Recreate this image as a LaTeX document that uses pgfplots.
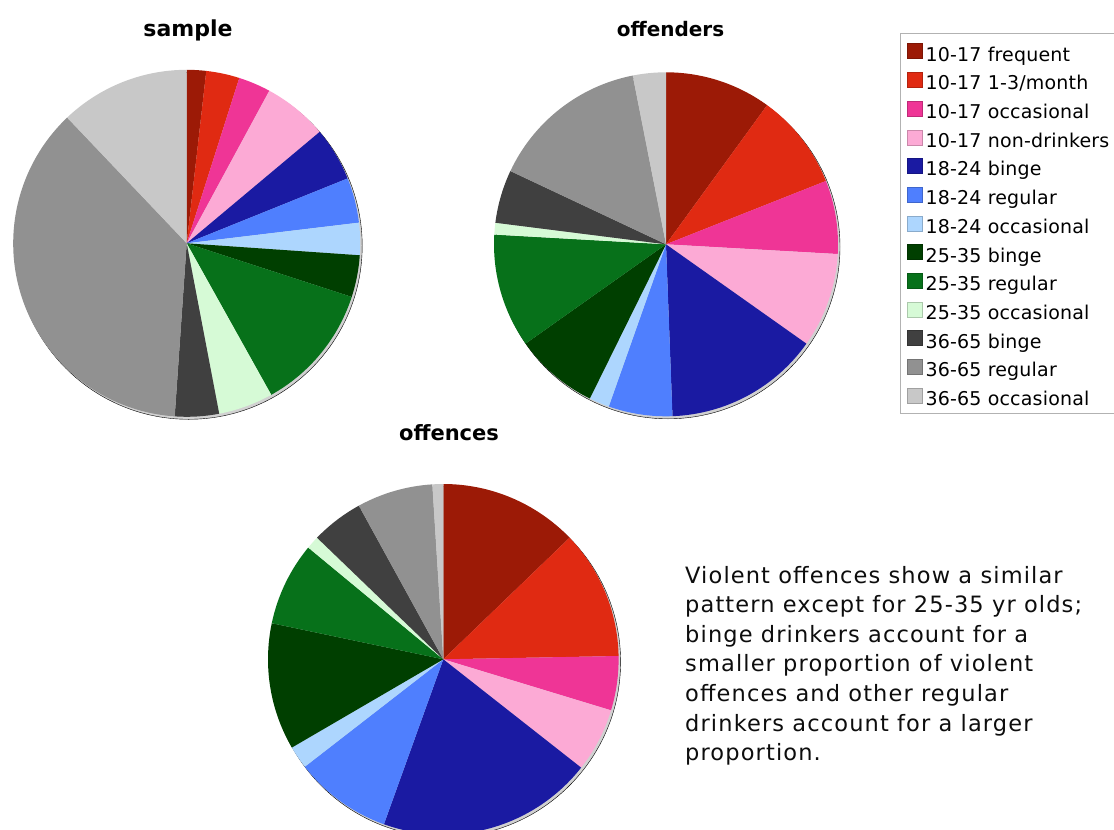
\documentclass[border=0pt]{standalone}
\usepackage{pgfplots}
\pgfplotsset{compat=1.18}
\usepackage{pgfplotstable}
\usepackage{fontspec}
\setmainfont{DejaVu Sans}
\newfontfamily\notefont[LetterSpace=5]{DejaVu Sans}
\newfontfamily\legendfont[LetterSpace=1]{DejaVu Sans}

\definecolor{slice0}{RGB}{156,26,6}
\definecolor{slice1}{RGB}{224,42,18}
\definecolor{slice2}{RGB}{239,53,150}
\definecolor{slice3}{RGB}{252,170,213}
\definecolor{slice4}{RGB}{26,26,162}
\definecolor{slice5}{RGB}{79,127,254}
\definecolor{slice6}{RGB}{173,214,254}
\definecolor{slice7}{RGB}{0,63,0}
\definecolor{slice8}{RGB}{7,113,26}
\definecolor{slice9}{RGB}{214,250,214}
\definecolor{slice10}{RGB}{64,64,64}
\definecolor{slice11}{RGB}{145,145,145}
\definecolor{slice12}{RGB}{200,200,200}

% share of each drinking group, in percent (clockwise from twelve o'clock)
\pgfplotstableread{
slice pct
0  1.8
1  3.1
2  3.0
3  6.0
4  5.0
5  4.2
6  3.0
7  3.9
8  11.9
9  5.1
10 4.1
11 36.8
12 12.1
}\sampletab
\pgfplotstableread{
slice pct
0  10.0
1  9.0
2  6.9
3  8.9
4  14.6
5  6.0
6  1.9
7  7.9
8  10.7
9  1.1
10 5.0
11 14.9
12 3.1
}\offenderstab
\pgfplotstableread{
slice pct
0  12.8
1  11.9
2  5.0
3  5.9
4  19.9
5  9.0
6  2.1
7  11.7
8  7.7
9  1.2
10 4.8
11 7.0
12 1.0
}\offencestab

\pgfplotsset{
  pie axis/.style={hide axis, scale only axis, clip=false,
    width=#1, height=#1, xmin=-1, xmax=1, ymin=-1, ymax=1, anchor=center,
    title style={at={(0.5,1)}, anchor=base}},
  pie shadow/.style={forget plot, only marks, mark=*, mark size=0.5*#1,
    mark options={draw=none, fill=black!18, xshift=2pt, yshift=-2.5pt}},
  % every row of the table becomes one wedge; the running total gives its start angle
  pie slices/.style={forget plot, scatter, only marks, mark=text, text mark={},
    point meta=explicit symbolic,
    visualization depends on={\thisrow{pct}\as\sliceshare},
    scatter/@pre marker code/.code={%
      \pgfkeys{/pgf/fpu=false}%
      \pgfmathsetlengthmacro\pieR{0.5*#1}%
      \pgfmathsetmacro\angA{90-3.6*\pieacc}%
      \pgfmathsetmacro\pieaccnext{\pieacc+\sliceshare}%
      \global\let\pieacc\pieaccnext
      \pgfmathsetmacro\angB{90-3.6*\pieacc}%
      \begin{pgfscope}%
      \pgfsetfillcolor{slice\pgfplotspointmeta}%
      \pgfpathmoveto{\pgfpointorigin}%
      \pgfpathlineto{\pgfpointpolar{\angA}{\pieR}}%
      \pgfpatharc{\angA}{\angB}{\pieR}%
      \pgfpathclose
      \pgfusepath{fill}%
      \end{pgfscope}%
      \scope},
    scatter/@post marker code/.code={\endscope}},
}

\begin{document}
\begin{tikzpicture}
\useasboundingbox (0,0) rectangle (1114pt,-830pt);

% sample
\gdef\pieacc{0}
\begin{axis}[pie axis=347pt, at={(186.7pt,-243.3pt)},
  title={sample},
  title style={yshift=27.8pt, xshift=1.3pt, font=\bfseries\fontsize{22}{26}\selectfont},
  legend style={at={(2.5556,1.1061)}, anchor=north west, draw=black!30, fill=white,
    inner xsep=7pt, inner ysep=4pt, row sep=0.7pt, column sep=3pt,
    font=\legendfont\fontsize{19}{23}\selectfont,
    nodes={inner sep=0pt, text height=24pt, text depth=4pt}},
  legend cell align=left,
  legend image code/.code={\draw[#1] (0pt,-7.5pt) rectangle (15pt,7.5pt);}]
\addplot[pie shadow=347pt] coordinates {(0,0)};
\addplot[pie slices=347pt] table[x expr=0, y expr=0, meta=slice] {\sampletab};
\addlegendimage{fill=slice0, draw=slice0!80!black}
\addlegendentry{10-17 frequent}
\addlegendimage{fill=slice1, draw=slice1!80!black}
\addlegendentry{10-17 1-3/month}
\addlegendimage{fill=slice2, draw=slice2!80!black}
\addlegendentry{10-17 occasional}
\addlegendimage{fill=slice3, draw=slice3!80!black}
\addlegendentry{10-17 non-drinkers}
\addlegendimage{fill=slice4, draw=slice4!80!black}
\addlegendentry{18-24 binge}
\addlegendimage{fill=slice5, draw=slice5!80!black}
\addlegendentry{18-24 regular}
\addlegendimage{fill=slice6, draw=slice6!80!black}
\addlegendentry{18-24 occasional}
\addlegendimage{fill=slice7, draw=slice7!80!black}
\addlegendentry{25-35 binge}
\addlegendimage{fill=slice8, draw=slice8!80!black}
\addlegendentry{25-35 regular}
\addlegendimage{fill=slice9, draw=slice9!80!black}
\addlegendentry{25-35 occasional}
\addlegendimage{fill=slice10, draw=slice10!80!black}
\addlegendentry{36-65 binge}
\addlegendimage{fill=slice11, draw=slice11!80!black}
\addlegendentry{36-65 regular}
\addlegendimage{fill=slice12, draw=slice12!80!black}
\addlegendentry{36-65 occasional}
\end{axis}

% offenders
\gdef\pieacc{0}
\begin{axis}[pie axis=344pt, at={(666pt,-244.3pt)},
  title={offenders},
  title style={yshift=30.3pt, xshift=4.5pt, font=\bfseries\fontsize{20}{24}\selectfont}]
\addplot[pie shadow=344pt] coordinates {(0,0)};
\addplot[pie slices=344pt] table[x expr=0, y expr=0, meta=slice] {\offenderstab};
\end{axis}

% offences
\gdef\pieacc{0}
\begin{axis}[pie axis=350.6pt, at={(443.3pt,-659.3pt)},
  title={offences},
  title style={yshift=37.4pt, xshift=5.7pt, font=\bfseries\fontsize{21}{25}\selectfont}]
\addplot[pie shadow=350.6pt] coordinates {(0,0)};
\addplot[pie slices=350.6pt] table[x expr=0, y expr=0, meta=slice] {\offencestab};
\end{axis}

\node[anchor=base west, align=left, inner sep=0pt, text=black!95,
  font=\notefont\fontsize{22.5}{29.6}\selectfont] at (685pt,-760.6pt)
  {Violent offences show a similar\\
   pattern except for 25-35 yr olds;\\
   binge drinkers account for a\\
   smaller proportion of violent\\
   offences and other regular\\
   drinkers account for a larger\\
   proportion.};
\end{tikzpicture}
\end{document}
